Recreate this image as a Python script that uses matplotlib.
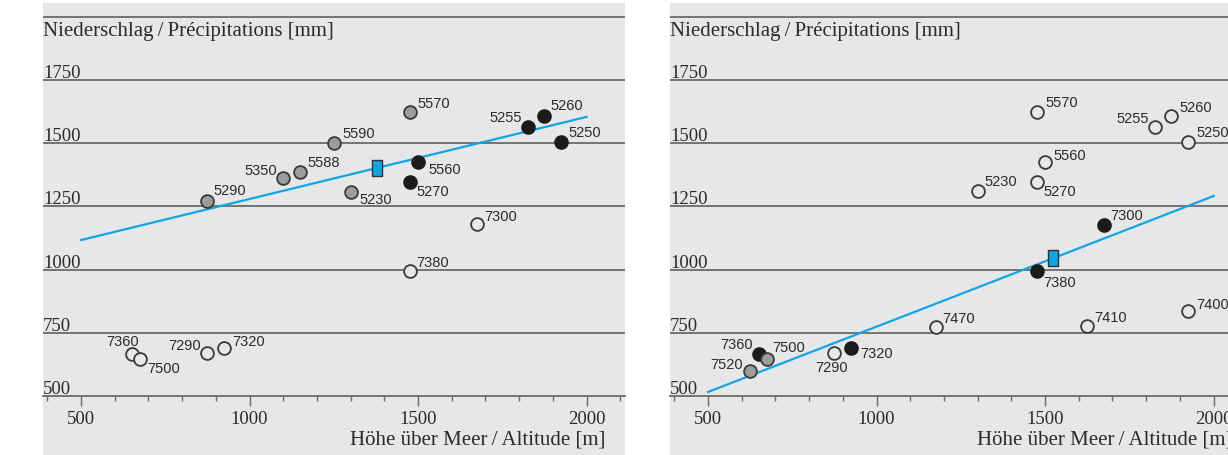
import numpy as np
import matplotlib
matplotlib.use('Agg')
import matplotlib.pyplot as plt
from matplotlib.ticker import MultipleLocator

# --- data ---
# left panel
l_ids = ['5290', '5350', '5588', '5590', '5570', '5230',
         '5560', '5270', '5255', '5260', '5250',
         '7300', '7380', '7360', '7500', '7290', '7320']
l_alt = [875, 1100, 1150, 1250, 1475, 1300,
         1500, 1475, 1825, 1875, 1925,
         1675, 1475, 650, 675, 875, 925]
l_prec = [1270, 1362, 1386, 1502, 1624, 1308,
          1424, 1348, 1564, 1608, 1505,
          1180, 996, 666, 646, 672, 690]
l_kind = ['gray'] * 6 + ['black'] * 5 + ['open'] * 6
l_mean = (1378, 1402)
l_fit_x = [500, 2000]
l_fit_y = [1117, 1604]

# right panel
r_ids = ['5570', '5255', '5260', '5250', '5560', '5230', '5270',
         '7470', '7410', '7400', '7290',
         '7300', '7380', '7360', '7320',
         '7500', '7520']
r_alt = [1475, 1825, 1875, 1925, 1500, 1300, 1475,
         1175, 1625, 1925, 875,
         1675, 1475, 650, 925,
         675, 625]
r_prec = [1624, 1564, 1608, 1505, 1426, 1311, 1347,
          773, 775, 836, 670,
          1178, 996, 666, 690,
          646, 599]
r_kind = ['open'] * 11 + ['black'] * 4 + ['gray'] * 2
r_mean = (1524, 1046)
r_fit_x = [500, 2000]
r_fit_y = [516, 1291]

y_ticks = [500, 750, 1000, 1250, 1500, 1750]
x_ticks = [500, 1000, 1500, 2000]
y_title = 'Niederschlag\u2009/\u2009Précipitations [mm]'
x_title = 'Höhe über Meer\u2009/\u2009Altitude [m]'

# label placement (ha, dx px, dy px downwards)
l_off = {'5290': ('left', 6, -10), '5350': ('right', -6, -7), '5588': ('left', 7, -9),
         '5590': ('left', 9, -9), '5570': ('left', 8, -8), '5255': ('right', -6, -9),
         '5260': ('left', 6, -10), '5250': ('left', 7, -9), '5560': ('left', 10, 8),
         '5270': ('left', 7, 10), '5230': ('left', 9, 8), '7300': ('left', 7, -7),
         '7380': ('left', 7, -8), '7360': ('right', 7, -12), '7500': ('left', 7, 10),
         '7290': ('right', -7, -7), '7320': ('left', 8, -6)}
r_off = {'5570': ('left', 9, -9), '5255': ('right', -6, -8), '5260': ('left', 8, -8),
         '5250': ('left', 8, -9), '5560': ('left', 8, -6), '5230': ('left', 7, -9),
         '5270': ('left', 7, 10), '7300': ('left', 6, -9), '7380': ('left', 7, 12),
         '7470': ('left', 7, -8), '7410': ('left', 7, -8), '7400': ('left', 8, -6),
         '7360': ('right', -6, -9), '7500': ('left', 5, -11), '7520': ('right', -7, -6),
         '7290': ('center', -3, 15), '7320': ('left', 9, 6)}

bg = '#e6e7e8'
gridc = '#6a6a6a'
blue = '#14a4e4'
ink = '#2b2b2b'
serif = ['Liberation Serif', 'DejaVu Serif']
sans = ['Liberation Sans', 'DejaVu Sans']
styles = {'black': dict(mfc='#1b1b1b', mec='#1b1b1b'),
          'gray': dict(mfc='#9c9c9c', mec='#3a3a3a'),
          'open': dict(mfc=bg, mec='#3a3a3a')}
rect = [(-5.5, -8), (5.5, -8), (5.5, 8), (-5.5, 8), (-5.5, -8)]


def panel(ax, ids, alt, prec, kind, mean, fx, fy, off):
    ax.set_facecolor(bg)
    ax.set_xlim(387, 2114)
    ax.set_ylim(266.6, 2054.6)
    for s in ['top', 'right', 'left']:
        ax.spines[s].set_visible(False)
    ax.spines['bottom'].set_position(('data', 500))
    ax.spines['bottom'].set_color(gridc)
    ax.spines['bottom'].set_linewidth(1.3)
    for v in y_ticks[1:] + [2000]:
        ax.axhline(v, color=gridc, lw=1.3, zorder=1)
    for v in y_ticks:
        ax.text(0.0, v + 8, str(v), transform=ax.get_yaxis_transform(),
                ha='left', va='baseline', fontsize=13.5, family=serif, color=ink)
    ax.set_yticks([])
    ax.set_xticks(x_ticks)
    ax.xaxis.set_minor_locator(MultipleLocator(100))
    ax.tick_params(axis='x', which='major', length=7.5, width=1, color=gridc,
                   pad=3, labelsize=13.5, labelcolor=ink)
    ax.tick_params(axis='x', which='minor', length=3.8, width=1, color=gridc)
    for lab in ax.get_xticklabels():
        lab.set_family(serif)
    ax.text(0.0, 0.938, y_title, transform=ax.transAxes,
            ha='left', va='center', fontsize=15, family=serif, color=ink)
    ax.text(0.966, 0.033, x_title, transform=ax.transAxes,
            ha='right', va='center', fontsize=15, family=serif, color=ink)

    ax.plot(fx, fy, color=blue, lw=1.6, zorder=2)
    for i, x, y, k in zip(ids, alt, prec, kind):
        ax.plot(x, y, 'o', ms=9.2, mew=1.3, zorder=3, **styles[k])
        ha, dx, dy = off[i]
        ax.annotate(i, (x, y), xytext=(dx * 0.72, -dy * 0.72), textcoords='offset points',
                    ha=ha, va='center', fontsize=10.5, family=sans, color=ink)
    ax.plot(mean[0], mean[1], marker=rect, ms=11.5, mfc=blue, mec='#333333',
            mew=1.0, zorder=4)


fig = plt.figure(figsize=(12.28, 4.55), dpi=100)
ax1 = fig.add_axes([43 / 1228, 0, 582 / 1228, 452 / 455])
ax2 = fig.add_axes([670 / 1228, 0, 582 / 1228, 452 / 455])
panel(ax1, l_ids, l_alt, l_prec, l_kind, l_mean, l_fit_x, l_fit_y, l_off)
panel(ax2, r_ids, r_alt, r_prec, r_kind, r_mean, r_fit_x, r_fit_y, r_off)

fig.savefig('out.png', dpi=100)
